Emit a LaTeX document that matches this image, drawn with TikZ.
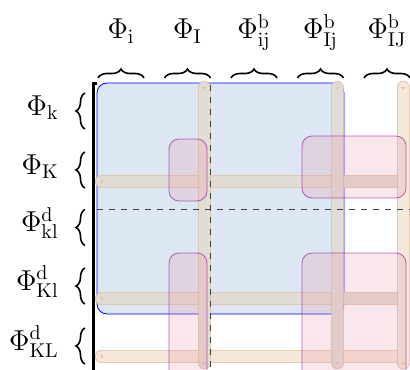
\documentclass[tikz,border=0pt]{standalone}
\usetikzlibrary{arrows.meta,decorations.pathreplacing}
\tikzset{>=latex}
\definecolor{blockblue}{RGB}{221,231,243}
\definecolor{subpink}{RGB}{232,135,160}
\definecolor{subpurple}{RGB}{150,50,165}
\definecolor{bargray}{RGB}{226,224,220}
\definecolor{barorange}{RGB}{249,236,224}
\definecolor{baredge}{RGB}{224,194,165}

\begin{document}
\begin{tikzpicture}[x=0.5pt, y=-0.5pt,
    lbl/.style={inner sep=0pt, font=\Large},
    brc/.style={decorate, decoration={brace, amplitude=4.5pt}, line width=0.8pt},
    blk/.style={draw=blue, fill=blockblue, rounded corners=5pt},
    sub/.style={draw=subpurple, draw opacity=0.75, fill=subpink, fill opacity=0.2, rounded corners=5pt},
    gbar/.style={{Latex[length=1.2pt,width=3pt,reversed]}-{Latex[length=1.2pt,width=3pt]}, draw=baredge, double=bargray, double distance=5.5pt, line width=0.5pt, line cap=round, opacity=0.85},
    obar/.style={gbar, double=barorange},
    sep/.style={dashed, dash pattern=on 3pt off 3pt, black!75}]
  \useasboundingbox (0,0) rectangle (410,369);
  \clip (0,0) rectangle (410,369);
  \foreach \n/\x/\t in {ci/121/{\Phi_{\mathrm{i}}}, cI/187.5/{\Phi_{\mathrm{I}}}, cij/254/{\Phi^{\mathrm{b}}_{\mathrm{ij}}}, cIj/320.5/{\Phi^{\mathrm{b}}_{\mathrm{Ij}}}, cIJ/387/{\Phi^{\mathrm{b}}_{\mathrm{IJ}}}}{
    \node[lbl, anchor=base] (\n) at (\x,39) {$\t$};
    \draw[brc] (\x-23,78) -- (\x+23,78);
  }
  \foreach \n/\y/\t in {rk/111/{\Phi_{\mathrm{k}}}, rK/170/{\Phi_{\mathrm{K}}}, rkl/227.5/{\Phi^{\mathrm{d}}_{\mathrm{kl}}}, rKl/286/{\Phi^{\mathrm{d}}_{\mathrm{Kl}}}, rKL/346/{\Phi^{\mathrm{d}}_{\mathrm{KL}}}}{
    \node[lbl, anchor=base east] (\n) at (59,\y+4) {$\t$};
    \draw[brc] (85,\y+18) -- (85,\y-18);
  }
  \draw[blk] (97,83) rectangle (344,314);
  \foreach \y/\s in {181.5/gbar, 298.5/gbar, 356.5/obar}
    \draw[\s] (101,\y) -- (405,\y);
  \foreach \x/\s in {204/gbar, 337.5/gbar, 403/obar}
    \draw[\s] (\x,87) -- (\x,365);
  \draw[sub] (169,139) rectangle (207,201);
  \draw[sub] (302,136) rectangle (406,198);
  \draw[sub] (169,253) rectangle (207,395);
  \draw[sub] (302,253) rectangle (406,395);
  \draw[sep] (210,85) -- (210,369);
  \draw[sep] (97,209) -- (410,209);
  \draw[line width=1.5pt] (97,83) -- (93,83) -- (93,375);
\end{tikzpicture}
\end{document}
